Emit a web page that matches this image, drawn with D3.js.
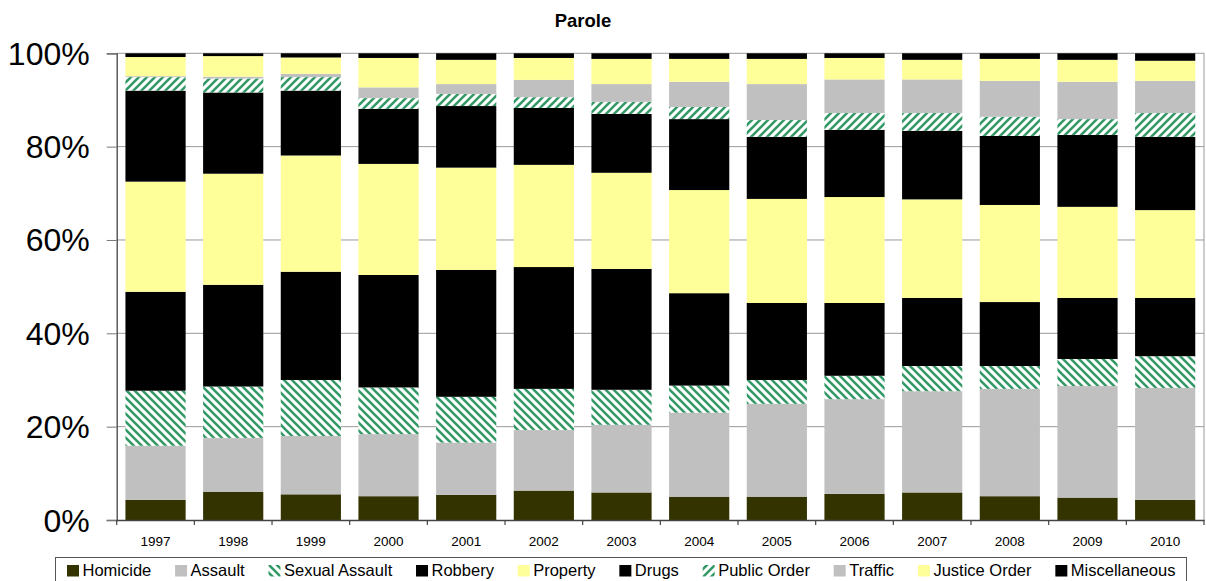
<!DOCTYPE html>
<html>
<head>
<meta charset="utf-8">
<script src="https://cdn.jsdelivr.net/npm/d3@7"></script>
<style>
  html, body { margin: 0; padding: 0; background: #fff; }
  svg { display: block; font-family: "Liberation Sans", Arial, sans-serif; }
</style>
</head>
<body>
<svg id="chart" width="1206" height="581"></svg>
<script>
// ---- data ----
const years = ["1997","1998","1999","2000","2001","2002","2003","2004","2005","2006","2007","2008","2009","2010"];
const seriesNames = ["Homicide","Assault","Sexual Assault","Robbery","Property","Drugs","Public Order","Traffic","Justice Order","Miscellaneous"];
const homicide      = [4.3, 6.0, 5.5, 5.1, 5.4, 6.3, 5.9, 5.0, 5.0, 5.6, 5.9, 5.1, 4.8, 4.3];
const assault       = [11.6, 11.6, 12.5, 13.3, 11.2, 13.0, 14.5, 18.0, 19.9, 20.3, 21.7, 23.0, 23.9, 24.0];
const sexualAssault = [11.8, 11.0, 12.0, 10.0, 9.8, 8.8, 7.5, 5.8, 5.1, 5.0, 5.4, 4.9, 5.8, 6.8];
const robbery       = [21.2, 21.8, 23.2, 24.1, 27.2, 26.1, 25.9, 19.8, 16.5, 15.6, 14.6, 13.7, 13.1, 12.5];
const property      = [23.6, 23.8, 24.9, 23.8, 21.9, 21.9, 20.6, 22.1, 22.3, 22.7, 21.1, 20.8, 19.5, 18.8];
const drugs         = [19.5, 17.4, 13.9, 11.8, 13.2, 12.2, 12.6, 15.2, 13.3, 14.4, 14.7, 14.8, 15.4, 15.7];
const publicOrder   = [2.9, 3.0, 2.9, 2.3, 2.6, 2.3, 2.6, 2.6, 3.6, 3.6, 3.8, 4.1, 3.4, 5.1];
const traffic       = [0.2, 0.4, 0.7, 2.3, 2.1, 3.7, 3.8, 5.4, 7.7, 7.2, 7.2, 7.7, 8.0, 6.9];
const justiceOrder  = [4.1, 4.4, 3.5, 6.3, 5.2, 4.7, 5.4, 4.9, 5.4, 4.6, 4.2, 4.7, 4.7, 4.3];
const miscellaneous = [0.8, 0.6, 0.9, 1.0, 1.4, 1.0, 1.2, 1.2, 1.2, 1.0, 1.4, 1.2, 1.4, 1.6];
const yTicks = [0, 0.2, 0.4, 0.6, 0.8, 1.0];
const yTickLabels = ["0%","20%","40%","60%","80%","100%"];
const chartTitle = "Parole";

const seriesValues = [homicide, assault, sexualAssault, robbery, property, drugs, publicOrder, traffic, justiceOrder, miscellaneous];

// ---- styles ----
const fills = {
  "Homicide": "#333300",
  "Assault": "#C0C0C0",
  "Sexual Assault": "url(#stripeDown)",
  "Robbery": "#000000",
  "Property": "#FFFF99",
  "Drugs": "#000000",
  "Public Order": "url(#stripeUp)",
  "Traffic": "#C0C0C0",
  "Justice Order": "#FFFF99",
  "Miscellaneous": "#000000"
};
const green = "#339966";

// ---- build table ----
const table = years.map((yr, i) => {
  const row = { year: yr };
  seriesNames.forEach((s, k) => row[s] = seriesValues[k][i]);
  return row;
});

const svg = d3.select("#chart");
const defs = svg.append("defs");

function stripePattern(id, up) {
  const p = defs.append("pattern")
    .attr("id", id).attr("patternUnits", "userSpaceOnUse")
    .attr("width", 8).attr("height", 8);
  p.append("rect").attr("width", 8).attr("height", 8).attr("fill", "#fff");
  const d = up
    ? "M-2,2 L2,-2 M0,8 L8,0 M6,10 L10,6"
    : "M-2,6 L2,10 M0,0 L8,8 M6,-2 L10,2";
  p.append("path").attr("d", d).attr("stroke", green).attr("stroke-width", 2.6);
}
stripePattern("stripeUp", true);
stripePattern("stripeDown", false);

const plotL = 116.7, plotR = 1204, plotT = 53.3, plotB = 520;

const x = d3.scaleBand().domain(years).range([plotL, plotR])
  .paddingInner(0.225).paddingOuter(0.1125);
const y = d3.scaleLinear().domain([0, 1]).range([plotB, plotT]);

// gridlines
svg.append("g").selectAll("line").data(yTicks.slice(1)).join("line")
  .attr("x1", plotL).attr("x2", plotR)
  .attr("y1", d => y(d)).attr("y2", d => y(d))
  .attr("stroke", "#9a9a9a").attr("stroke-width", 1);

// right border of plot area
svg.append("line").attr("x1", plotR).attr("x2", plotR).attr("y1", plotT).attr("y2", plotB)
  .attr("stroke", "#9a9a9a").attr("stroke-width", 1);

// stacked bars
const stack = d3.stack().keys(seriesNames).offset(d3.stackOffsetExpand);
const stacked = stack(table);

svg.append("g").selectAll("g").data(stacked).join("g")
  .attr("fill", d => fills[d.key])
  .selectAll("rect").data(d => d).join("rect")
  .attr("x", d => x(d.data.year))
  .attr("width", x.bandwidth())
  .attr("y", d => y(d[1]))
  .attr("height", d => y(d[0]) - y(d[1]));

// y axis
const yAxis = svg.append("g").attr("transform", `translate(${plotL},0)`)
  .call(d3.axisLeft(y).tickValues(yTicks).tickFormat((d, i) => yTickLabels[i])
    .tickSize(10).tickPadding(17));
yAxis.select(".domain").attr("stroke", "#444").attr("stroke-width", 1.3);
yAxis.selectAll(".tick line").attr("stroke", "#777");
yAxis.selectAll(".tick text").attr("font-size", 32).attr("fill", "#000")
  .attr("dy", null).attr("dominant-baseline", "central").attr("y", 0);

// x axis
const xAxis = svg.append("g").attr("transform", `translate(0,${plotB})`)
  .call(d3.axisBottom(x).tickSize(0).tickPadding(16));
xAxis.select(".domain").attr("stroke", "#444").attr("stroke-width", 1.3);
xAxis.selectAll(".tick text").attr("font-size", 13.5).attr("fill", "#000");
// category boundary ticks
const boundaries = d3.range(years.length + 1).map(i => plotL + i * x.step());
xAxis.append("g").selectAll("line").data(boundaries).join("line")
  .attr("x1", d => d).attr("x2", d => d).attr("y1", 0).attr("y2", 5)
  .attr("stroke", "#444").attr("stroke-width", 1.2);

// title
svg.append("text").attr("x", 583).attr("y", 27).attr("text-anchor", "middle")
  .attr("font-size", 18.5).attr("font-weight", "bold").attr("fill", "#000").text(chartTitle);

// legend
const lg = svg.append("g");
lg.append("rect").attr("x", 55.5).attr("y", 557.5).attr("width", 1131).attr("height", 40)
  .attr("fill", "#fff").attr("stroke", "#555").attr("stroke-width", 1);
let lx = 67;
seriesNames.forEach(name => {
  lg.append("rect").attr("x", lx).attr("y", 565).attr("width", 12).attr("height", 11.5)
    .attr("fill", fills[name]);
  const t = lg.append("text").attr("x", lx + 15.5).attr("y", 576)
    .attr("font-size", 16.5).attr("fill", "#000").text(name);
  lx += 15.5 + t.node().getComputedTextLength() + 23.8;
});
</script>
</body>
</html>
